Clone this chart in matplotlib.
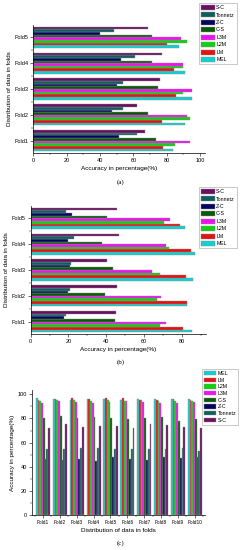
import numpy as np
import matplotlib
matplotlib.use('Agg')
import matplotlib.pyplot as plt
from matplotlib.ticker import MultipleLocator

plt.rcParams['font.family'] = ['Liberation Sans', 'DejaVu Sans']

# feature sets (order used for the horizontal panels, top to bottom)
features = ['S-C', 'Tonnetz', 'Z-C', 'C-S', 'L3M', 'L2M', 'LM', 'MEL']
colors = {'S-C': '#6b0f5f', 'Tonnetz': '#0f5f5f', 'Z-C': '#05055f', 'C-S': '#0a5a0a',
          'L3M': '#f010f0', 'L2M': '#10d010', 'LM': '#e81010', 'MEL': '#10d0d0'}

folds5 = ['Fold1', 'Fold2', 'Fold3', 'Fold4', 'Fold5']
folds10 = ['Fold1', 'Fold2', 'Fold3', 'Fold4', 'Fold5',
           'Fold6', 'Fold7', 'Fold8', 'Fold9', 'Fold10']

# panel (a), values per fold 1..5
a_sc = [67.3, 62.3, 76.2, 77.4, 68.9]
a_ton = [62.3, 53.7, 53.7, 61.3, 48.7]
a_zc = [51.3, 47.3, 50.0, 52.5, 40.0]
a_cs = [73.7, 68.7, 75.0, 71.0, 71.0]
a_l3m = [93.8, 92.4, 95.0, 90.0, 88.8]
a_l2m = [85.0, 93.8, 90.0, 90.0, 92.4]
a_lm = [78.0, 77.0, 85.4, 84.4, 80.2]
a_mel = [83.6, 91.2, 95.0, 91.2, 87.6]

# panel (b)
b_sc = [45.1, 45.9, 40.6, 46.9, 45.7]
b_ton = [18.7, 20.8, 21.5, 22.9, 18.5]
b_zc = [17.5, 19.9, 20.8, 19.8, 21.7]
b_cs = [44.6, 39.5, 43.4, 37.6, 40.6]
b_l3m = [71.8, 69.1, 64.2, 71.8, 73.5]
b_l2m = [68.4, 66.7, 68.4, 73.2, 70.4]
b_lm = [80.6, 82.9, 82.0, 85.0, 79.2]
b_mel = [85.4, 82.5, 85.7, 86.8, 81.8]

# panel (c), folds 1..10
c_mel = [96.7, 96.1, 95.6, 96.4, 96.4, 95.6, 96.4, 96.1, 95.9, 96.1]
c_lm = [95.3, 96.1, 96.7, 96.1, 96.7, 97.2, 95.6, 95.3, 95.9, 95.0]
c_l2m = [94.5, 95.0, 95.0, 94.5, 95.3, 94.2, 95.0, 94.2, 94.5, 94.2]
c_l3m = [93.1, 94.2, 93.6, 93.1, 93.6, 94.2, 93.4, 93.1, 93.1, 93.4]
c_cs = [80.4, 82.0, 80.1, 81.5, 80.4, 79.8, 80.4, 81.0, 77.9, 79.3]
c_zc = [46.4, 45.9, 46.7, 45.0, 48.3, 46.7, 45.9, 47.8, 47.2, 47.8]
c_ton = [54.4, 54.4, 55.5, 55.5, 54.4, 54.7, 55.0, 54.4, 55.2, 53.0]
c_sc = [72.4, 75.7, 73.2, 73.5, 73.8, 72.4, 75.4, 74.9, 73.2, 72.4]

data_a = dict(zip(features, [a_sc, a_ton, a_zc, a_cs, a_l3m, a_l2m, a_lm, a_mel]))
data_b = dict(zip(features, [b_sc, b_ton, b_zc, b_cs, b_l3m, b_l2m, b_lm, b_mel]))
c_order = ['MEL', 'LM', 'L2M', 'L3M', 'C-S', 'Z-C', 'Tonnetz', 'S-C']
data_c = dict(zip(c_order, [c_mel, c_lm, c_l2m, c_l3m, c_cs, c_zc, c_ton, c_sc]))

W, H = 242, 550
fig = plt.figure(figsize=(W / 100, H / 100), dpi=100)

FS = 4.0
LFS = 4.6
EDGE = '#909090'
SERIF = ['Liberation Serif', 'DejaVu Serif']


def style(ax, labelsize=FS):
    for s in ['top', 'right']:
        ax.spines[s].set_visible(False)
    for s in ['left', 'bottom']:
        ax.spines[s].set_linewidth(0.5)
    ax.tick_params(which='major', direction='out', length=2, width=0.4,
                   labelsize=labelsize, pad=1.5)
    ax.tick_params(which='minor', direction='out', length=1.2, width=0.3)


def legend(ax, handles, labels, xy, hl, hh, ls):
    leg = ax.legend(handles, labels, loc='upper left', bbox_to_anchor=xy,
                    bbox_transform=fig.transFigure, fontsize=3.8, frameon=True,
                    fancybox=False, edgecolor='#a0a0a0', handlelength=hl,
                    handleheight=hh, labelspacing=ls, borderpad=0.35,
                    handletextpad=0.3, borderaxespad=0)
    leg.get_frame().set_linewidth(0.5)


def hpanel(rect, data, xmax, leg_xy, caption, cap_y):
    ax = fig.add_axes(rect)
    pos = np.arange(1, 6)
    bh = 0.102
    # MEL at the bottom of each group, S-C at the top
    for i, f in enumerate(reversed(features)):
        ax.barh(pos - 3.5 * bh + i * bh, data[f], height=bh, color=colors[f],
                edgecolor=EDGE, linewidth=0.3, label=f)
    ax.set_yticks(pos)
    ax.set_yticklabels(folds5)
    ax.yaxis.set_minor_locator(MultipleLocator(0.5))
    ax.set_ylim(0.52, 5.48)
    ax.set_xlim(0, xmax)
    ax.xaxis.set_major_locator(MultipleLocator(20))
    ax.xaxis.set_minor_locator(MultipleLocator(10))
    style(ax)
    ax.set_xlabel('Accuracy in percentage(%)', fontsize=LFS, labelpad=2)
    ax.set_ylabel('Distribution of data in folds', fontsize=LFS, labelpad=2)
    h, l = ax.get_legend_handles_labels()
    legend(ax, h[::-1], l[::-1], leg_xy, 2.6, 1.05, 0.42)
    fig.text(0.5, cap_y, caption, ha='center', va='center', fontsize=5, family=SERIF)


hpanel([33.3 / W, 1 - 153 / H, (205 - 33.3) / W, 128 / H], data_a, 103,
       (199 / W, 1 - 3 / H), '(a)', 1 - 182 / H)
hpanel([30.7 / W, 1 - 334 / H, (206 - 30.7) / W, 128 / H], data_b, 92.8,
       (199 / W, 1 - 187 / H), '(b)', 1 - 362 / H)

# panel (c)
ax = fig.add_axes([32 / W, 1 - 515 / H, (205 - 32) / W, 125 / H])
x = np.arange(1, 11)
bw = 0.104
for i, f in enumerate(c_order):
    ax.bar(x - 3.5 * bw + i * bw, data_c[f], width=bw, color=colors[f],
           edgecolor=EDGE, linewidth=0.3, label=f)
ax.set_xticks(x)
ax.set_xticklabels(folds10)
ax.xaxis.set_minor_locator(MultipleLocator(0.5))
ax.set_xlim(0.35, 10.6)
ax.set_ylim(0, 103.6)
ax.yaxis.set_major_locator(MultipleLocator(20))
ax.yaxis.set_minor_locator(MultipleLocator(10))
style(ax)
ax.tick_params(axis='x', which='major', labelsize=3.4)
ax.set_xlabel('Distribution of data in folds', fontsize=LFS, labelpad=2)
ax.set_ylabel('Accuracy in percentage(%)', fontsize=LFS, labelpad=2)
h, l = ax.get_legend_handles_labels()
legend(ax, h, l, (202 / W, 1 - 369 / H), 2.3, 0.95, 0.3)
fig.text(0.5, 1 - 543 / H, '(c)', ha='center', va='center', fontsize=5, family=SERIF)

fig.savefig('out.png', dpi=100)
